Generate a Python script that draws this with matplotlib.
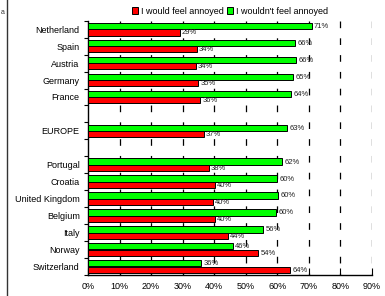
import matplotlib.pyplot as plt
import matplotlib.patches as mpatches
from matplotlib.lines import Line2D
import numpy as np

plt.rcParams['font.family'] = ['Liberation Sans', 'DejaVu Sans']
plt.rcParams['lines.scale_dashes'] = False

# data (top to bottom), '' = empty slot
countries = ['Netherland', 'Spain', 'Austria', 'Germany', 'France', '', 'EUROPE', '',
             'Portugal', 'Croatia', 'United Kingdom', 'Belgium', 'Italy', 'Norway', 'Switzerland']
wouldnt = [70.9, 65.6, 66.0, 65.0, 64.4, None, 63.2, None,
           61.6, 60.0, 60.3, 59.6, 55.6, 46.0, 35.9]
would = [29.1, 34.4, 34.2, 35.0, 35.6, None, 36.8, None,
         38.4, 40.1, 39.6, 40.3, 44.4, 54.0, 64.1]
xticks = [0, 10, 20, 30, 40, 50, 60, 70, 80, 90]

fig = plt.figure(figsize=(3.85, 2.96), dpi=100)
ax = fig.add_axes([88/385, 1-275/296, (372-88)/385, (275-20.7)/296])

pos = np.arange(len(countries)) + 0.5
h = 0.37
for i, y in enumerate(pos):
    if wouldnt[i] is None:
        continue
    ax.barh(y - 0.19, wouldnt[i], height=h, color='#00ff00', edgecolor='black', linewidth=0.7, zorder=3)
    ax.barh(y + 0.19, would[i], height=h, color='#ff0000', edgecolor='black', linewidth=0.7, zorder=3)
    ax.text(wouldnt[i] + 0.7, y - 0.16, f"{wouldnt[i]:.0f}%", fontsize=5.5, va='center', color='#222222', zorder=4)
    ax.text(would[i] + 0.6, y + 0.22, f"{would[i]:.0f}%", fontsize=5.5, va='center', color='#222222', zorder=4)

# dashed grid
ax.vlines(xticks[1:], 0, len(countries), colors='black', linewidth=0.9,
          linestyles=[(0, (4.8, 7.3))], zorder=1)

ax.set_xlim(0, 90)
ax.set_ylim(len(countries), 0)
ax.set_xticks(xticks)
ax.set_xticklabels([f"{v}%" for v in xticks], fontsize=6.5)
ax.set_yticks(pos)
ax.set_yticklabels(countries, fontsize=6.5)
ax.set_yticks(np.arange(len(countries) + 1), minor=True)
ax.tick_params(axis='y', which='major', length=0, pad=6)
ax.tick_params(axis='y', which='minor', length=3, direction='out', width=0.8)
ax.tick_params(axis='x', length=5, direction='in', width=0.8, pad=5)
for s in ['top', 'right']:
    ax.spines[s].set_visible(False)
for s in ['left', 'bottom']:
    ax.spines[s].set_linewidth(1.0)

handles = [mpatches.Patch(facecolor='#ff0000', edgecolor='black', linewidth=0.7, label='I would feel annoyed'),
           mpatches.Patch(facecolor='#00ff00', edgecolor='black', linewidth=0.7, label="I wouldn't feel annoyed")]
fig.legend(handles=handles, loc='upper center', bbox_to_anchor=(0.597, 1.005), ncol=2, frameon=False,
           fontsize=6.5, handlelength=0.7, handleheight=0.7, handletextpad=0.3, columnspacing=0.4)

fig.add_artist(Line2D([7/385, 7/385], [0, 1], transform=fig.transFigure, color='#333333', linewidth=1))
fig.text(1/385, 1-12/296, 'a', fontsize=5, va='center', color='#333333')

plt.savefig('out.png', dpi=100)
